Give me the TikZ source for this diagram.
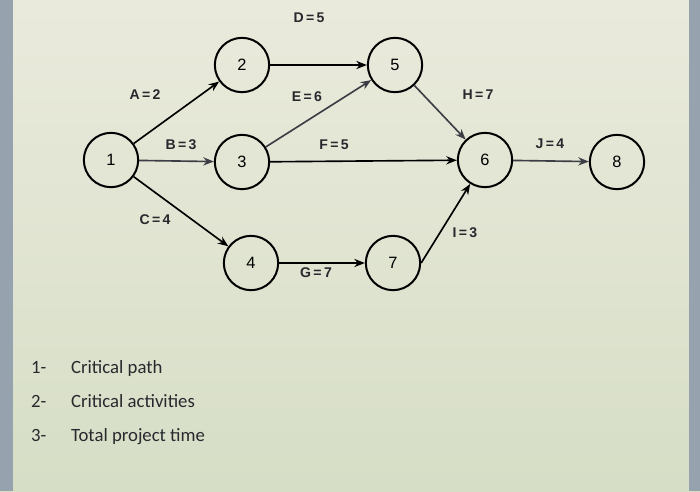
\documentclass[tikz,border=0pt]{standalone}
\usepackage{fontspec}
\setmainfont{Carlito}
\newfontfamily\arialfont{Liberation Sans}
\usetikzlibrary{arrows.meta}
\definecolor{screentop}{RGB}{234,234,220}
\definecolor{screenbot}{RGB}{214,222,198}
\definecolor{framegray}{RGB}{150,163,175}
\definecolor{arrowgray}{RGB}{60,62,70}
\definecolor{inkgray}{RGB}{40,40,45}
\tikzset{
  event/.style={circle,draw,line width=1.7pt,minimum size=1.63cm,inner sep=0pt,font=\arialfont\fontsize{14}{14}\selectfont},
  act/.style={line width=1.4pt,-{Stealth[length=9pt,width=7pt]}},
  actlabel/.style={font=\arialfont\bfseries\fontsize{12}{12}\selectfont,text=inkgray},
  question/.style={anchor=base west,font=\fontsize{16}{16}\selectfont,text=inkgray}
}
\begin{document}
\begin{tikzpicture}[x=0.03cm,y=-0.03cm]
    \shade[top color=screentop,bottom color=screenbot] (0,0) rectangle (700,491);
    \fill[framegray] (0,0) rectangle (13,491);
    \fill[framegray] (689,0) rectangle (700,491);
    \useasboundingbox (0,0) rectangle (700,491);
    % events
    \node[event] (n1) at (111,160) {1};
    \node[event] (n2) at (242,65) {2};
    \node[event] (n5) at (395,65) {5};
    \node[event] (n3) at (242,162) {3};
    \node[event] (n6) at (485,160) {6};
    \node[event] (n8) at (617,162) {8};
    \node[event] (n4) at (251,263) {4};
    \node[event] (n7) at (393,263) {7};
    % activities
    \draw[act] (n1) -- (n2);
    \draw[act,arrowgray] (n1) -- (n3);
    \draw[act] (n1) -- (n4);
    \draw[act] (n2) -- (n5);
    \draw[act,arrowgray] (n3) -- (n5);
    \draw[act] (n3) -- (n6);
    \draw[act,arrowgray] (n5) -- (n6);
    \draw[act] (n4) -- (n7);
    \draw[act] (n7.east) -- (n6);
    \draw[act,arrowgray] (n6) -- (n8);
    % labels
    \node[actlabel] (la) at (145,95) {A\,=\,2};
    \node[actlabel] (lb) at (181,145) {B\,=\,3};
    \node[actlabel] (lc) at (155,220) {C\,=\,4};
    \node[actlabel] (ld) at (309,18) {D\,=\,5};
    \node[actlabel] (le) at (307,97) {E\,=\,6};
    \node[actlabel] (lf) at (334,145) {F\,=\,5};
    \node[actlabel] (lh) at (478,95) {H\,=\,7};
    \node[actlabel] (lj) at (550,144) {J\,=\,4};
    \node[actlabel] (lg) at (316,273) {G\,=\,7};
    \node[actlabel] (li) at (465,233) {I\,=\,3};
    % questions
    \node[question] (q1n) at (27,373) {1-};
    \node[question] (q1) at (67,373) {Critical path};
    \node[question] (q2n) at (27,407) {2-};
    \node[question] (q2) at (67,407) {Critical activities};
    \node[question] (q3n) at (27,441) {3-};
    \node[question] (q3) at (67,441) {Total project time};
\end{tikzpicture}
\end{document}
